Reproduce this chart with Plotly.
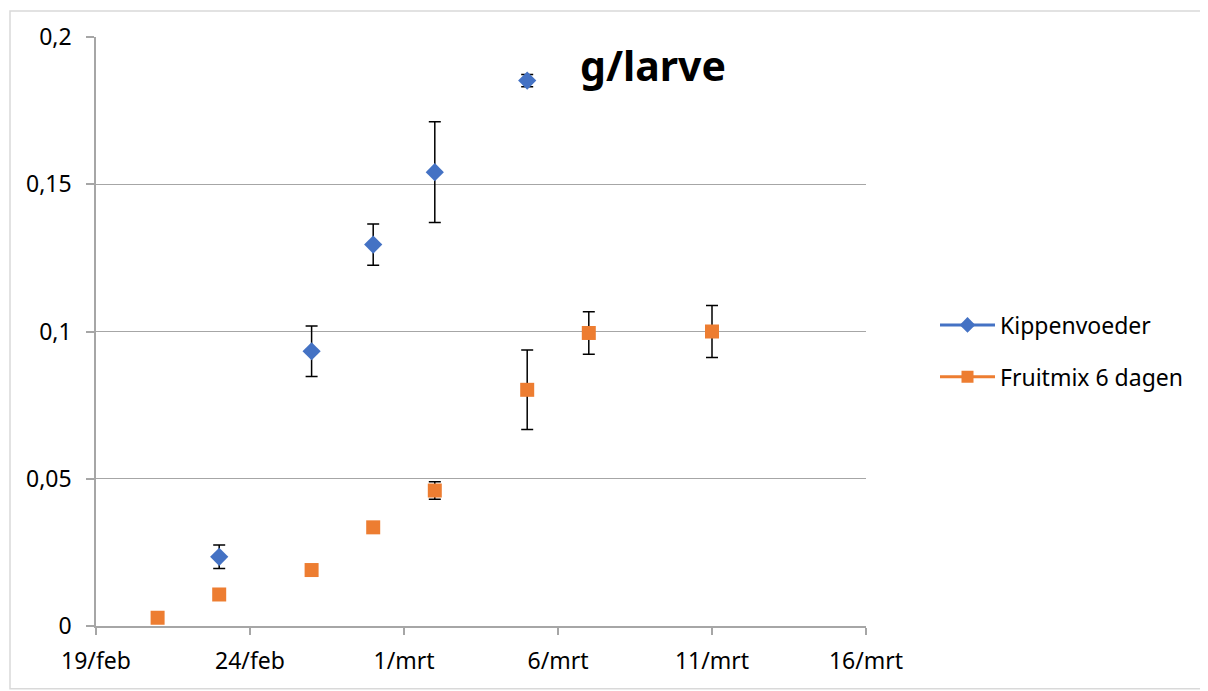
import plotly.graph_objects as go

# Data
kip_dates = ["2019-02-23", "2019-02-26", "2019-02-28", "2019-03-02", "2019-03-05"]
kip_vals = [0.0235, 0.0933, 0.1295, 0.1541, 0.1852]
kip_err = [0.0040, 0.0086, 0.0070, 0.0171, 0.0021]

fruit_dates = ["2019-02-21", "2019-02-23", "2019-02-26", "2019-02-28", "2019-03-02",
               "2019-03-05", "2019-03-07", "2019-03-11"]
fruit_vals = [0.0028, 0.0107, 0.0190, 0.0335, 0.0460, 0.0802, 0.0995, 0.1000]
fruit_err = [0.0, 0.0, 0.0, 0.0, 0.0030, 0.0135, 0.0072, 0.0088]

x_tickvals = ["2019-02-19", "2019-02-24", "2019-03-01", "2019-03-06", "2019-03-11", "2019-03-16"]
x_ticktext = ["19/feb", "24/feb", "1/mrt", "6/mrt", "11/mrt", "16/mrt"]
y_tickvals = [0, 0.05, 0.1, 0.15, 0.2]
y_ticktext = ["0", "0,05", "0,1", "0,15", "0,2"]

BLUE = "#4472C4"
ORANGE = "#ED7D31"
FONT = "Noto Sans"
GRAY = "#A6A6A6"

fig = go.Figure()

fig.add_trace(go.Scatter(
    x=kip_dates, y=kip_vals, mode="markers", showlegend=False,
    marker=dict(symbol="diamond", size=14, color=BLUE),
    error_y=dict(type="data", array=kip_err, visible=True, color="black", thickness=1.5, width=6),
))
fig.add_trace(go.Scatter(
    x=fruit_dates, y=fruit_vals, mode="markers", showlegend=False,
    marker=dict(symbol="square", size=14, color=ORANGE),
    error_y=dict(type="data", array=fruit_err, visible=True, color="black", thickness=1.5, width=6),
))
# legend entries
fig.add_trace(go.Scatter(
    x=[None], y=[None], mode="lines+markers", name="Kippenvoeder", legendgroup="a",
    line=dict(color=BLUE, width=3), marker=dict(symbol="diamond", size=12, color=BLUE),
))
fig.add_trace(go.Scatter(
    x=[None], y=[None], mode="lines+markers", name="Fruitmix 6 dagen", legendgroup="b",
    line=dict(color=ORANGE, width=3), marker=dict(symbol="square", size=12, color=ORANGE),
))

fig.update_layout(
    width=1208, height=691,
    margin=dict(l=88, r=350, t=27, b=73),
    paper_bgcolor="white", plot_bgcolor="white",
    font=dict(family=FONT, size=23, color="black"),
    separators=",.",
    showlegend=True,
    legend=dict(x=(935 - 96) / 770, y=(626 - 350) / 591, xanchor="left", yanchor="middle",
                font=dict(size=23, family=FONT), itemwidth=55, tracegroupgap=19,
                bgcolor="rgba(0,0,0,0)"),
    xaxis=dict(
        type="date", range=["2019-02-19", "2019-03-16"],
        tickvals=x_tickvals, ticktext=x_ticktext,
        showgrid=False, showline=True, linecolor=GRAY, linewidth=1.5,
        ticks="outside", ticklen=7, tickcolor=GRAY, tickwidth=1.5,
        tickfont=dict(size=23, family=FONT), zeroline=False, ticklabelstandoff=7,
    ),
    yaxis=dict(
        range=[0, 0.2], tickvals=y_tickvals, ticktext=y_ticktext,
        showgrid=True, gridcolor=GRAY, gridwidth=1,
        showline=True, linecolor=GRAY, linewidth=1.5,
        ticks="outside", ticklen=8, tickcolor=GRAY, tickwidth=1.5,
        tickfont=dict(size=23, family=FONT), zeroline=False, ticklabelstandoff=10,
    ),
    annotations=[dict(
        text="<b>g/larve</b>", xref="paper", yref="paper",
        x=(653 - 96) / 770, y=(626 - 63) / 591, xanchor="center", yanchor="middle",
        showarrow=False, font=dict(size=41, family=FONT, color="black"),
    )],
    shapes=[dict(
        type="rect", xref="paper", yref="paper",
        x0=-86 / 770, x1=(1206 - 96) / 770, y0=-63 / 591, y1=1 + 26 / 591,
        line=dict(color="#D9D9D9", width=1.5), layer="below",
    )],
)

fig.write_html("out.html")
